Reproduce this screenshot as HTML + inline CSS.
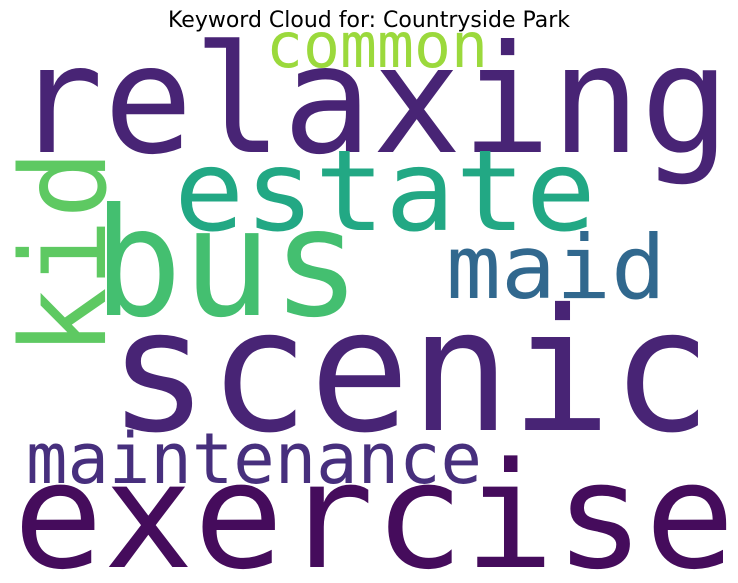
<!DOCTYPE html>
<html><head><meta charset="utf-8"><style>
html,body{margin:0;padding:0;background:#fff;}
svg{display:block;}
text.w{font-family:"DejaVu Sans Mono","Liberation Mono",monospace;}
</style></head><body>
<svg width="738" height="583" viewBox="0 0 738 583">
<rect width="738" height="583" fill="#fff"/>
<text x="369" y="27" text-anchor="middle" font-family="DejaVu Sans, Liberation Sans, sans-serif" font-size="22" fill="#000">Keyword Cloud for: Countryside Park</text>
<text class="w" x="14" y="152" font-size="150" textLength="716" lengthAdjust="spacingAndGlyphs" fill="#482475">relaxing</text>
<text class="w" x="266" y="67" font-size="62" textLength="222" lengthAdjust="spacingAndGlyphs" fill="#9bd93c">common</text>
<text class="w" x="174" y="230" font-size="112" textLength="422" lengthAdjust="spacingAndGlyphs" fill="#22a884">estate</text>
<text class="w" x="93" y="315" font-size="150" textLength="268" lengthAdjust="spacingAndGlyphs" fill="#44bf70">bus</text>
<text class="w" x="446" y="298" font-size="88" textLength="220" lengthAdjust="spacingAndGlyphs" fill="#31688e">maid</text>
<text class="w" transform="translate(105,356) rotate(-90)" x="0" y="0" font-size="118" textLength="206" lengthAdjust="spacingAndGlyphs" fill="#5ec962">kid</text>
<text class="w" x="108" y="430" font-size="170" textLength="604" lengthAdjust="spacingAndGlyphs" fill="#482475">scenic</text>
<text class="w" x="26" y="483" font-size="70" textLength="456" lengthAdjust="spacingAndGlyphs" fill="#472f7d">maintenance</text>
<text class="w" x="13" y="567" font-size="147" textLength="722" lengthAdjust="spacingAndGlyphs" fill="#450c5c">exercise</text>
</svg>
</body></html>
